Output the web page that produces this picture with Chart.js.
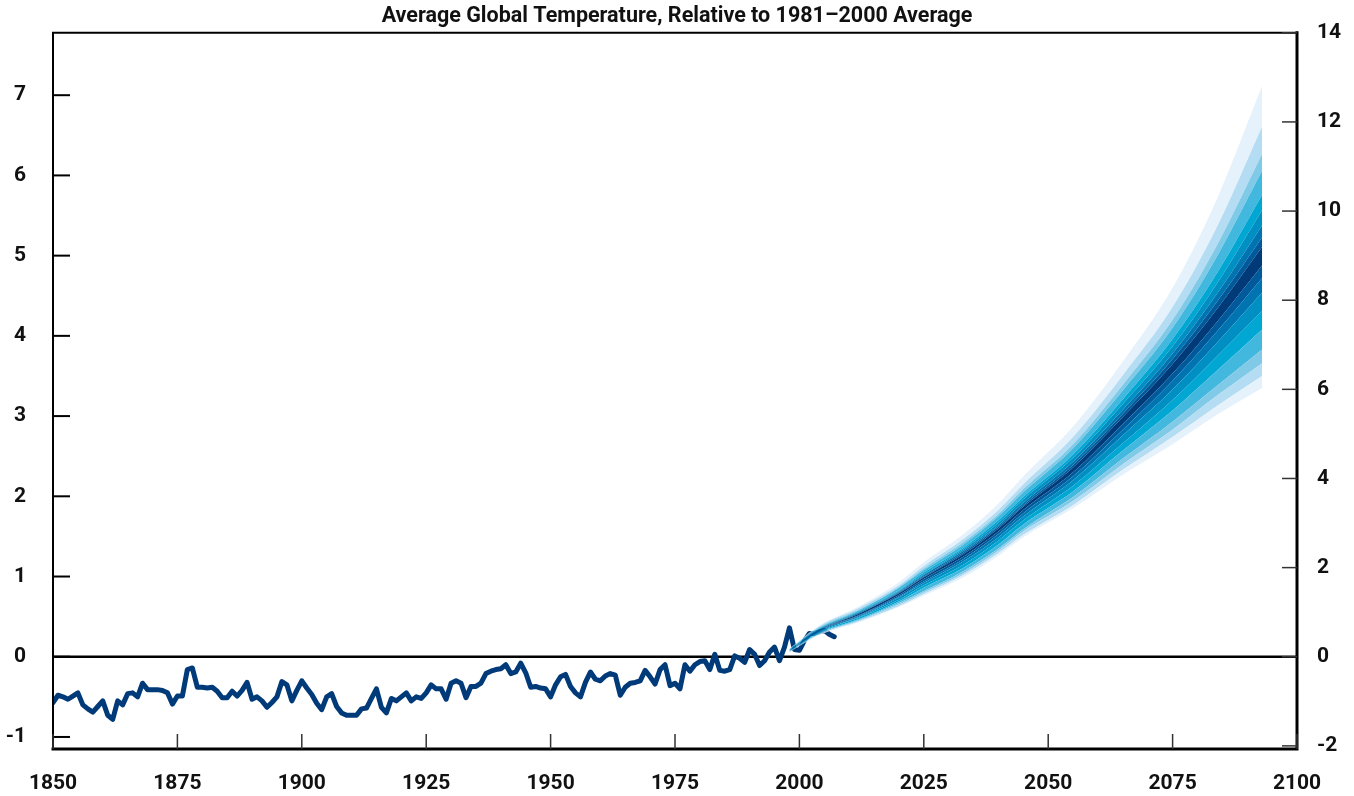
<!DOCTYPE html>
<html>
<head>
<meta charset="utf-8">
<title>Average Global Temperature</title>
<script src="https://cdn.jsdelivr.net/npm/chart.js@4/dist/chart.umd.min.js"></script>
<style>
  html, body { margin: 0; padding: 0; background: #fff; }
  #wrap { width: 1354px; height: 796px; }
</style>
</head>
<body>
<div id="wrap"><canvas id="temp-chart" width="1354" height="796"></canvas></div>
<script>
// Observed annual anomaly (deg C), 1850 onwards
var histStart = 1850;
var histValues = [
  -0.57, -0.48, -0.50, -0.53, -0.49, -0.45, -0.60, -0.65, -0.69, -0.62,
  -0.55, -0.73, -0.78, -0.55, -0.60, -0.46, -0.45, -0.50, -0.33, -0.41,
  -0.41, -0.41, -0.42, -0.45, -0.59, -0.49, -0.49, -0.16, -0.14, -0.38,
  -0.38, -0.39, -0.38, -0.43, -0.51, -0.51, -0.43, -0.49, -0.42, -0.32,
  -0.53, -0.50, -0.55, -0.63, -0.57, -0.50, -0.31, -0.35, -0.55, -0.42,
  -0.30, -0.39, -0.47, -0.58, -0.66, -0.50, -0.46, -0.62, -0.70, -0.73,
  -0.73, -0.73, -0.65, -0.64, -0.52, -0.40, -0.63, -0.70, -0.52, -0.55,
  -0.50, -0.45, -0.55, -0.50, -0.52, -0.45, -0.35, -0.40, -0.40, -0.53,
  -0.33, -0.30, -0.33, -0.51, -0.37, -0.37, -0.33, -0.21, -0.18, -0.16,
  -0.15, -0.10, -0.21, -0.19, -0.08, -0.20, -0.38, -0.37, -0.39, -0.40,
  -0.50, -0.35, -0.25, -0.22, -0.37, -0.45, -0.50, -0.32, -0.19, -0.28,
  -0.30, -0.24, -0.21, -0.23, -0.48, -0.38, -0.33, -0.32, -0.30, -0.17,
  -0.25, -0.34, -0.16, -0.10, -0.36, -0.33, -0.40, -0.10, -0.18, -0.10,
  -0.06, -0.05, -0.16, 0.03, -0.17, -0.18, -0.16, 0.01, -0.02, -0.07,
  0.09, 0.03, -0.11, -0.05, 0.06, 0.12, -0.05, 0.12, 0.36, 0.09,
  0.08, 0.20, 0.29, 0.29, 0.31, 0.33, 0.28, 0.25
];

// Projection fan: band edges (deg C), outermost (1) to innermost (9)
var fanYears = [1998, 2004, 2012, 2020, 2025, 2033, 2040, 2045, 2055, 2065, 2075, 2084, 2093];
var hi1 = [0.10, 0.39, 0.63, 0.93, 1.18, 1.53, 1.91, 2.25, 2.87, 3.68, 4.60, 5.72, 7.12];
var hi2 = [0.10, 0.38, 0.61, 0.89, 1.13, 1.47, 1.83, 2.15, 2.74, 3.51, 4.36, 5.37, 6.61];
var hi3 = [0.09, 0.37, 0.59, 0.87, 1.10, 1.43, 1.78, 2.09, 2.65, 3.39, 4.20, 5.14, 6.27];
var hi4 = [0.09, 0.36, 0.58, 0.86, 1.08, 1.40, 1.75, 2.05, 2.60, 3.32, 4.10, 5.00, 6.06];
var hi5 = [0.09, 0.35, 0.57, 0.83, 1.05, 1.36, 1.70, 1.99, 2.52, 3.21, 3.96, 4.79, 5.76];
var hi6 = [0.09, 0.35, 0.56, 0.82, 1.03, 1.34, 1.67, 1.96, 2.48, 3.15, 3.87, 4.66, 5.57];
var hi7 = [0.08, 0.34, 0.55, 0.81, 1.02, 1.32, 1.64, 1.92, 2.43, 3.08, 3.78, 4.53, 5.38];
var hi8 = [0.08, 0.34, 0.54, 0.80, 1.00, 1.30, 1.62, 1.89, 2.39, 3.03, 3.71, 4.43, 5.23];
var hi9 = [0.08, 0.33, 0.54, 0.79, 0.99, 1.28, 1.60, 1.87, 2.36, 2.99, 3.65, 4.34, 5.11];
var lo9 = [0.08, 0.33, 0.52, 0.77, 0.97, 1.25, 1.56, 1.83, 2.30, 2.90, 3.53, 4.18, 4.88];
var lo8 = [0.08, 0.32, 0.51, 0.75, 0.94, 1.22, 1.53, 1.79, 2.25, 2.83, 3.44, 4.06, 4.72];
var lo7 = [0.07, 0.31, 0.50, 0.74, 0.92, 1.19, 1.49, 1.75, 2.20, 2.76, 3.33, 3.92, 4.54];
var lo6 = [0.07, 0.31, 0.49, 0.71, 0.89, 1.15, 1.45, 1.70, 2.13, 2.66, 3.20, 3.75, 4.31];
var lo5 = [0.07, 0.30, 0.47, 0.69, 0.86, 1.11, 1.40, 1.65, 2.06, 2.57, 3.07, 3.57, 4.08];
var lo4 = [0.07, 0.29, 0.46, 0.67, 0.82, 1.07, 1.35, 1.59, 1.99, 2.47, 2.93, 3.38, 3.83];
var lo3 = [0.06, 0.28, 0.45, 0.65, 0.80, 1.04, 1.32, 1.56, 1.94, 2.40, 2.83, 3.26, 3.66];
var lo2 = [0.06, 0.28, 0.44, 0.63, 0.78, 1.02, 1.29, 1.52, 1.89, 2.33, 2.74, 3.13, 3.50];
var lo1 = [0.06, 0.27, 0.43, 0.62, 0.76, 0.99, 1.26, 1.49, 1.85, 2.27, 2.65, 3.02, 3.35];

// Tick labels
var xTicks = [1850, 1875, 1900, 1925, 1950, 1975, 2000, 2025, 2050, 2075, 2100];
var celsiusTicks = [-1, 0, 1, 2, 3, 4, 5, 6, 7];
var fahrenheitTicks = [-2, 0, 2, 4, 6, 8, 10, 12, 14];

var titleText = 'Average Global Temperature, Relative to 1981\u20132000 Average';

// band colours, outer to centre
var bandColors = ['#e6f2fb', '#b4dcf2', '#80cae8', '#43b8de', '#00a7d3', '#008fc3', '#0074b1', '#00599a', '#003a79'];
var lineColor = '#003a79';
var FONT = 'Roboto, "DejaVu Sans", sans-serif';

function toPoints(xs, ys) {
    return ys.map(function(v, i) { return { x: xs[i], y: v }; });
}

function fanDataset(values, color, fill) {
    return {
        data: toPoints(fanYears, values),
        borderWidth: 0,
        borderColor: 'rgba(0,0,0,0)',
        backgroundColor: color,
        pointRadius: 0,
        fill: fill,
        cubicInterpolationMode: 'monotone'
    };
}

function buildDatasets() {
    var histYears = histValues.map(function(v, i) { return histStart + i; });
    var lower = [lo1, lo2, lo3, lo4, lo5, lo6, lo7, lo8, lo9];
    var upper = [hi9, hi8, hi7, hi6, hi5, hi4, hi3, hi2, hi1];
    var sets = [fanDataset(lo1, bandColors[0], false)];
    var i;
    for (i = 1; i < lower.length; i++) {
        sets.push(fanDataset(lower[i], bandColors[i - 1], '-1'));
    }
    // centre band then upper side going outwards
    for (i = 0; i < upper.length; i++) {
        sets.push(fanDataset(upper[i], bandColors[bandColors.length - 1 - i], '-1'));
    }
    sets.push({
        data: toPoints(histYears, histValues),
        borderColor: lineColor,
        borderWidth: 5,
        borderJoinStyle: 'round',
        borderCapStyle: 'round',
        pointRadius: 0,
        fill: false,
        tension: 0
    });
    return sets;
}

function fixTicks(values) {
    return function(scale) {
        scale.ticks = values.map(function(v) { return { value: v }; });
    };
}

// fixed axis sizes, no label overflow padding
function fitWidth(w) {
    return function(s) {
        s.width = w;
        s.paddingTop = 0;
        s.paddingBottom = 0;
    };
}

/**
 * Frame, zero line and inward ticks
 */
var framePlugin = {
    id: 'frame',
    beforeDatasetsDraw: function(chart) {
        var ctx = chart.ctx, a = chart.chartArea;
        var y0 = chart.scales.y.getPixelForValue(0);
        ctx.save();
        ctx.strokeStyle = '#000';
        ctx.lineWidth = 2.5;
        ctx.beginPath();
        ctx.moveTo(a.left, y0);
        ctx.lineTo(a.right, y0);
        ctx.stroke();
        ctx.restore();
    },
    afterDatasetsDraw: function(chart) {
        var ctx = chart.ctx, a = chart.chartArea;
        var sx = chart.scales.x, sy = chart.scales.y, sy2 = chart.scales.y2;
        ctx.save();
        ctx.strokeStyle = '#000';
        ctx.lineCap = 'square';
        ctx.lineWidth = 2;
        ctx.beginPath();
        ctx.moveTo(a.left, a.bottom);
        ctx.lineTo(a.left, a.top);
        ctx.lineTo(a.right, a.top);
        ctx.stroke();
        ctx.lineWidth = 3;
        ctx.beginPath();
        ctx.moveTo(a.left, a.bottom);
        ctx.lineTo(a.right, a.bottom);
        ctx.lineTo(a.right, a.top);
        ctx.stroke();

        ctx.lineCap = 'butt';
        ctx.lineWidth = 2;
        celsiusTicks.forEach(function(v) {
            var y = sy.getPixelForValue(v);
            ctx.beginPath();
            ctx.moveTo(a.left, y);
            ctx.lineTo(a.left + 17, y);
            ctx.stroke();
        });
        ctx.strokeStyle = '#333';
        ctx.lineWidth = 1.5;
        fahrenheitTicks.forEach(function(v) {
            var y = sy2.getPixelForValue(v);
            ctx.beginPath();
            ctx.moveTo(a.right, y);
            ctx.lineTo(a.right - 15, y);
            ctx.stroke();
        });
        xTicks.forEach(function(v) {
            var x = sx.getPixelForValue(v);
            ctx.beginPath();
            ctx.moveTo(x, a.bottom);
            ctx.lineTo(x, a.bottom - 15);
            ctx.stroke();
        });
        ctx.restore();
    }
};

function initChart() {
    var el = document.getElementById('temp-chart');
    var tickFont = { family: FONT, size: 21, weight: 'bold' };

    new Chart(el, {
        type: 'line',
        data: { datasets: buildDatasets() },
        options: {
            responsive: false,
            animation: false,
            layout: { padding: 0 },
            plugins: {
                legend: { display: false },
                tooltip: { enabled: false },
                title: {
                    display: true,
                    text: titleText,
                    color: '#111',
                    font: { family: FONT, size: 21.5, weight: 'bold', lineHeight: 1.2 },
                    padding: { top: 4, bottom: 3 }
                }
            },
            scales: {
                x: {
                    type: 'linear',
                    min: 1850,
                    max: 2100,
                    afterBuildTicks: fixTicks(xTicks),
                    afterFit: function(s) { s.height = 47; },
                    grid: { display: false, drawTicks: false },
                    border: { display: false },
                    ticks: {
                        color: '#111',
                        font: tickFont,
                        padding: 22,
                        maxRotation: 0,
                        callback: function(v) { return String(v); }
                    }
                },
                y: {
                    position: 'left',
                    min: -1.15,
                    max: 14 / 1.8,
                    afterBuildTicks: fixTicks(celsiusTicks),
                    afterFit: fitWidth(53),
                    grid: { display: false, drawTicks: false },
                    border: { display: false },
                    ticks: {
                        color: '#111',
                        font: tickFont,
                        padding: 27,
                        callback: function(v) { return String(v); }
                    }
                },
                y2: {
                    position: 'right',
                    min: -1.15 * 1.8,
                    max: 14,
                    afterBuildTicks: fixTicks(fahrenheitTicks),
                    afterFit: fitWidth(57),
                    grid: { display: false, drawTicks: false },
                    border: { display: false },
                    ticks: {
                        color: '#111',
                        font: tickFont,
                        padding: 20,
                        callback: function(v) { return String(v); }
                    }
                }
            }
        },
        plugins: [framePlugin]
    });
}

initChart();
</script>
</body>
</html>
